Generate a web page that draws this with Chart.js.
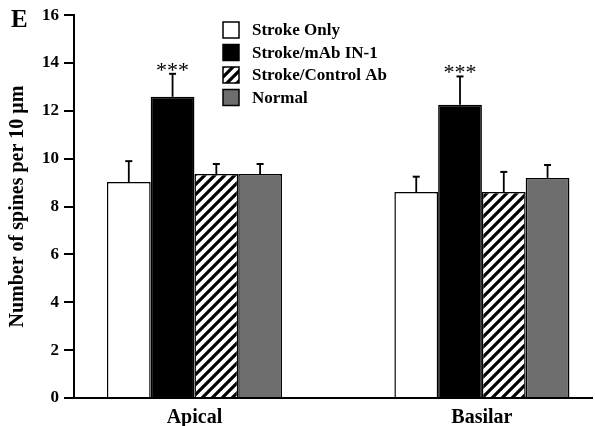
<!DOCTYPE html>
<html>
<head>
<meta charset="utf-8">
<script src="https://cdn.jsdelivr.net/npm/chart.js@4/dist/chart.umd.min.js"></script>
<style>
  html, body { margin: 0; padding: 0; background: #fff; }
  #wrap { width: 595px; height: 426px; }
</style>
</head>
<body>
<div id="wrap"><canvas id="myChart" width="595" height="426"></canvas></div>
<script>
var categories = ['Apical', 'Basilar'];
var seriesNames = ['Stroke Only', 'Stroke/mAb IN-1', 'Stroke/Control Ab', 'Normal'];
var strokeOnly = [9.03, 8.61];
var strokeMab = [12.59, 12.26];
var strokeControl = [9.36, 8.61];
var normal = [9.36, 9.2];
var errStrokeOnly = [0.87, 0.64];
var errStrokeMab = [0.96, 1.18];
var errStrokeControl = [0.42, 0.84];
var errNormal = [0.42, 0.54];
var stars = [['', ''], ['***', '***'], ['', ''], ['', '']];
var yTicks = [0, 2, 4, 6, 8, 10, 12, 14, 16];

var serif = "'Liberation Serif', 'Times New Roman', serif";

function makeHatch() {
    var c = document.createElement('canvas');
    c.width = 10;
    c.height = 10;
    var g = c.getContext('2d');
    g.fillStyle = '#fff';
    g.fillRect(0, 0, 10, 10);
    g.strokeStyle = '#000';
    g.lineWidth = 3.2;
    g.beginPath();
    g.moveTo(-5, 5); g.lineTo(5, -5);
    g.moveTo(0, 10); g.lineTo(10, 0);
    g.moveTo(5, 15); g.lineTo(15, 5);
    g.stroke();
    return g.createPattern(c, 'repeat');
}

var ctx = document.getElementById('myChart').getContext('2d');
var hatch = makeHatch();

function points(vals) {
    var out = [];
    for (var i = 0; i < vals.length; i++) {
        out.push({ x: i, y: vals[i] });
    }
    return out;
}

var allValues = [strokeOnly, strokeMab, strokeControl, normal];
var allErrors = [errStrokeOnly, errStrokeMab, errStrokeControl, errNormal];
var fills = ['#ffffff', '#000000', hatch, '#6e6e6e'];

var datasets = [];
for (var d = 0; d < seriesNames.length; d++) {
    datasets.push({
        label: seriesNames[d],
        data: points(allValues[d]),
        backgroundColor: fills[d],
        borderColor: '#000',
        borderWidth: 1.5,
        borderSkipped: 'bottom',
        categoryPercentage: 0.609,
        barPercentage: 1.0
    });
}

var extras = {
    id: 'extras',
    afterDatasetsDraw: function (chart) {
        var c = chart.ctx;
        var yScale = chart.scales.y;
        c.save();
        c.strokeStyle = '#000';
        c.fillStyle = '#000';
        for (var d = 0; d < chart.data.datasets.length; d++) {
            var meta = chart.getDatasetMeta(d);
            for (var i = 0; i < meta.data.length; i++) {
                var bar = meta.data[i];
                var top = yScale.getPixelForValue(allValues[d][i] + allErrors[d][i]);
                c.lineWidth = 1.8;
                c.beginPath();
                c.moveTo(bar.x, bar.y);
                c.lineTo(bar.x, top);
                c.stroke();
                c.lineWidth = 2;
                c.beginPath();
                c.moveTo(bar.x - 3.5, top);
                c.lineTo(bar.x + 3.5, top);
                c.stroke();
                if (stars[d][i]) {
                    c.font = '22px ' + serif;
                    c.textAlign = 'center';
                    c.textBaseline = 'alphabetic';
                    c.fillText(stars[d][i], bar.x, top + 3);
                }
            }
        }
        // legend
        var lx = 223, ly = 22, step = 22.5;
        c.font = 'bold 17px ' + serif;
        c.textAlign = 'left';
        c.textBaseline = 'middle';
        for (var k = 0; k < seriesNames.length; k++) {
            var by = ly + k * step;
            c.fillStyle = fills[k];
            c.fillRect(lx, by, 16, 16);
            c.lineWidth = 1.5;
            c.strokeStyle = '#000';
            c.strokeRect(lx, by, 16, 16);
            c.fillStyle = '#000';
            c.fillText(seriesNames[k], 252, by + 9);
        }
        // panel letter
        c.font = 'bold 25px ' + serif;
        c.textBaseline = 'alphabetic';
        c.fillText('E', 11, 27);
        c.restore();
    }
};

var myChart = new Chart(ctx, {
    type: 'bar',
    data: { datasets: datasets },
    plugins: [extras],
    options: {
        responsive: false,
        animation: false,
        layout: { padding: { top: 8, right: 3, left: 0, bottom: 0 } },
        plugins: {
            legend: { display: false },
            tooltip: { enabled: false }
        },
        scales: {
            x: {
                type: 'linear',
                offset: false,
                min: -0.419,
                max: 1.383,
                grid: { display: false },
                border: { display: true, color: '#000', width: 2 },
                afterBuildTicks: function (axis) {
                    axis.ticks = categories.map(function (c, i) { return { value: i }; });
                },
                afterFit: function (axis) { axis.height = 28; },
                ticks: {
                    color: '#000',
                    padding: 0,
                    maxRotation: 0,
                    autoSkip: false,
                    font: { family: serif, size: 20, weight: 'bold' },
                    callback: function (v) { return categories[v]; }
                }
            },
            y: {
                min: 0,
                max: 16,
                grid: {
                    drawOnChartArea: false,
                    drawTicks: true,
                    tickLength: 10,
                    tickColor: '#000',
                    lineWidth: 2
                },
                border: { display: true, color: '#000', width: 2 },
                afterBuildTicks: function (axis) {
                    axis.ticks = yTicks.map(function (v) { return { value: v }; });
                },
                afterFit: function (axis) { axis.width = 74; },
                ticks: {
                    color: '#000',
                    padding: 5,
                    font: { family: serif, size: 17, weight: 'bold' }
                },
                title: {
                    display: true,
                    text: 'Number of spines per 10 μm',
                    color: '#000',
                    padding: { top: 6, bottom: 0 },
                    font: { family: serif, size: 20, weight: 'bold' }
                }
            }
        }
    }
});
</script>
</body>
</html>
